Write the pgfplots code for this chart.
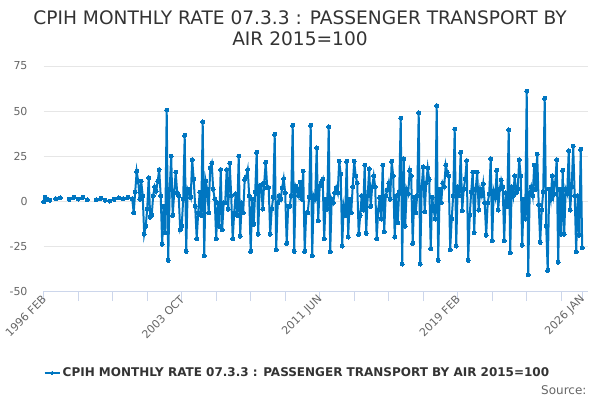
\documentclass[border=0pt]{standalone}
\usepackage{pgfplots}
\usepackage{pgfplotstable}
\pgfplotsset{compat=1.18}
\usepackage{fontspec}
\setmainfont{DejaVu Sans}
\definecolor{ons}{RGB}{0,118,193}
\definecolor{titlec}{RGB}{51,51,51}
\definecolor{tickc}{RGB}{102,102,102}
\definecolor{gridc}{RGB}{230,230,230}
\definecolor{axisc}{RGB}{204,214,235}

\pgfplotstableread{
x y
0 -0.5
1 2.2
2 1.2
3 0.6
4 0.4
5 nan
8 1.3
9 nan
11 1.7
12 nan
17 0.9
18 nan
20 2.0
21 nan
23 1.1
24 nan
26 2.0
27 nan
29 0.6
30 nan
35 0.7
36 nan
38 1.5
39 nan
41 0.4
42 nan
44 0.0
45 nan
47 0.9
48 nan
50 1.7
51 nan
53 1.3
54 nan
56 2.0
57 nan
59 1.3
60 -6.5
61 5
62 16.5
63 11
64 1
65 11
66 3
67 -18.5
68 -14
69 -4.5
70 13
71 -9
72 -8
73 3
74 8
75 5.5
76 11
77 17.5
78 3
79 -24
80 -3
81 -17.5
82 50.5
83 -33
84 6.5
85 25
86 -8
87 4.5
88 16
89 4.5
90 3
91 -16
92 -14
93 1
94 36.5
95 -28
96 6.5
97 4.5
98 2
99 23
100 12
101 -3
102 -21
103 -6.5
104 5
105 -8
106 44
107 -30.5
108 11
109 6.5
110 -6.5
111 18.5
112 21
113 6.5
114 1
115 -21
116 -1
117 -14
118 17.5
119 -16
120 -1
121 -1
122 17.5
123 -4.5
124 21
125 3
126 -21
127 -6.5
128 4
129 -8
130 25
131 -19.5
132 -1
133 -6.5
134 12
135 13.5
136 17.5
137 3
138 -28
139 1
140 -13
141 5
142 27
143 -18.5
144 8.3
145 9
146 -4.5
147 10
148 21.5
149 7.5
150 7.5
151 -18.5
152 -4.5
153 2
154 37
155 -27
156 -1
157 3
158 1
159 7.5
160 12.5
161 4.5
162 -23.5
163 -3
164 -3
165 3
166 42
167 -28
168 8.3
169 6.5
170 3
171 10.5
172 1
173 16.5
174 -28
175 -6.5
176 -6.5
177 2
178 42
179 -30.5
180 3
181 1
182 29.5
183 -11
184 8.3
185 10
186 12
187 -21
188 1
189 -4.5
190 41.3
191 -28.3
192 1
193 -1
194 4.5
195 7.5
196 4.5
197 22
198 15
199 -25
200 -3
201 -8
202 22
203 -20
204 1
205 -6.5
206 8
207 22
208 14
209 10
210 -18.5
211 -8
212 3
213 -5
214 20
215 -18
216 3
217 18
218 -3
219 8
220 14
221 8
222 -21
223 -5
224 2
225 -10
226 20
227 -17
228 3
229 6
230 10
231 1
232 22
233 14
234 -20
235 3
236 -12
237 5
238 46
239 -35
240 23.5
241 -14
242 6.5
243 4
244 17
245 14
246 -23.5
247 2
248 -6.5
249 3
250 49
251 -35
252 8
253 19
254 -6
255 10
256 18.5
257 12
258 -26.5
259 2
260 -5
261 -10
262 53
263 -33
264 6.5
265 -1
266 10
267 8
268 20
269 16
270 14
271 -27
272 -10
273 3
274 40
275 -25
276 8
277 3
278 27
279 -5.5
280 6.5
281 12
282 22.5
283 -33
284 -8
285 5
286 16
287 -17.5
288 6.5
289 16
290 -5
291 6.5
292 3
293 9.5
294 -1
295 -19
296 -1
297 4
298 23.5
299 -22
300 5.5
301 2
302 17
303 -5
304 6.5
305 11.5
306 8
307 -22
308 4.5
309 -3
310 39.5
311 -28.7
312 8
313 3
314 14
315 4.5
316 6.5
317 23
318 14
319 -24.5
320 1
321 -10
322 61
323 -41
324 4.5
325 8
326 3
327 20
328 6.5
329 26
330 -2
331 -23
332 -5
333 5
334 57
335 -14
336 -38.5
337 6.5
338 1
339 14
340 3.7
341 10
342 23
343 -34
344 6.5
345 -18.5
346 17
347 -18.5
348 6.5
349 4
350 28
351 -5
352 8
353 30.5
354 3
355 -28.3
356 3
357 -19
358 28.7
359 -26
}\airdata

\begin{document}
\begin{tikzpicture}[x=1pt,y=1pt]
\useasboundingbox (0,0) rectangle (600,400);
\node[font=\fontsize{18.6}{22}\selectfont, text=titlec] at (300,382.5) {CPIH MONTHLY RATE 07.3.3 : PASSENGER TRANSPORT BY};
\node[font=\fontsize{18.6}{22}\selectfont, text=titlec] at (300,361) {AIR 2015=100};
\begin{axis}[
  at={(43.7pt,109pt)}, anchor=south west,
  scale only axis, width=544.5pt, height=225pt,
  xmin=0, xmax=363, ymin=-50, ymax=75,
  axis x line*=bottom, axis y line*=left,
  y axis line style={draw=none},
  x axis line style={axisc, line width=1pt},
  ytick={-50,-25,0,25,50,75},
  ytick style={draw=none},
  xtick={0,92,184,276,359},
  xticklabels={1996 FEB,2003 OCT,2011 JUN,2019 FEB,2026 JAN},
  minor xtick={23,46,69,115,138,161,207,230,253,299,322,345},
  xtick style={axisc, line width=1pt},
  minor x tick style={axisc, line width=1pt},
  tick align=outside, major tick length=10pt, minor tick length=10pt,
  ymajorgrids, grid style={gridc, line width=1pt},
  /pgf/number format/assume math mode=true,
  ticklabel style={font=\fontsize{11}{13}\selectfont, text=tickc},
  yticklabel style={anchor=east, inner sep=0pt, xshift=-6pt},
  xticklabel style={rotate=45, anchor=east, inner sep=0pt, xshift=3pt, yshift=2pt},
  unbounded coords=jump,
  clip=false,
  legend style={at={(0.466,-0.364)}, anchor=center, draw=none, fill=none,
    font=\bfseries\fontsize{12}{14}\selectfont, text=titlec, inner sep=0pt,
    cells={anchor=west}},
  legend image code/.code={\draw[#1, mark size=1.6pt, mark repeat=2, mark phase=2] plot coordinates {(0pt,0pt) (7.5pt,0pt) (15pt,0pt)};},
]
\addplot[ons, line width=2pt, mark=*, mark size=2pt, mark options={solid, fill=ons, draw=ons, line width=0pt}] table[x=x, y=y] {\airdata};
\addlegendentry{CPIH MONTHLY RATE 07.3.3 : PASSENGER TRANSPORT BY AIR 2015=100}
\end{axis}
\node[anchor=east, font=\fontsize{12}{14}\selectfont, text=tickc] at (590,10) {Source:};
\end{tikzpicture}
\end{document}
